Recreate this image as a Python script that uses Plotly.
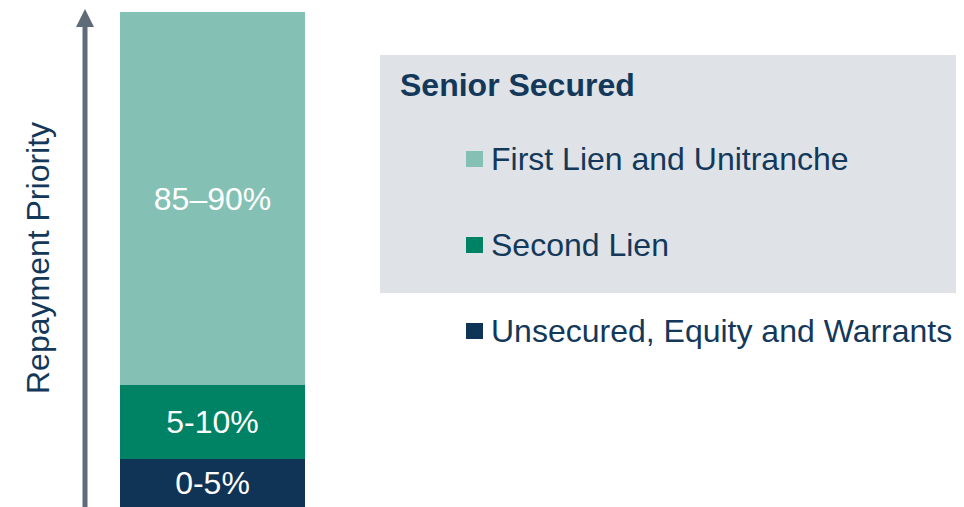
import plotly.graph_objects as go

# Data
categories = ["Unsecured, Equity and Warrants", "Second Lien", "First Lien and Unitranche"]
shares = [9.7, 15.0, 75.3]  # visual share of the stacked bar
bar_labels = ["0-5%", "5-10%", "85–90%"]
colors = ["#0F3455", "#008264", "#84C1B4"]
group_title = "Senior Secured"
axis_title = "Repayment Priority"

W, H = 972, 507
OX, OY = 8, 8  # page body margin compensation
NAVY = "#13385A"
FONT = "Liberation Sans, Arial, sans-serif"
FS = 32

def px(x):
    return x - OX

def py(p):
    return 1 - (p - OY) / H

total = sum(shares)
fig = go.Figure()
for cat, val, lab, col in zip(categories, shares, bar_labels, colors):
    fig.add_trace(go.Bar(
        x=[px(212.5)], y=[val], width=[185], name=cat,
        marker=dict(color=col, line=dict(width=0)),
        text=[lab], textposition="inside", insidetextanchor="middle",
        textangle=0,
        textfont=dict(color="white", size=FS, family=FONT),
        hoverinfo="skip", showlegend=False,
    ))

shapes = []
annotations = []

# Arrow
shapes.append(dict(type="line", xref="x", yref="paper", x0=px(85), x1=px(85),
                   y0=py(520), y1=py(26), line=dict(color="#5F6B78", width=5)))
shapes.append(dict(type="path", xref="x", yref="paper",
                   path=f"M {px(76)} {py(27)} L {px(85)} {py(9)} L {px(94)} {py(27)} Z",
                   fillcolor="#5F6B78", line=dict(width=0)))

# Grey box
shapes.append(dict(type="rect", xref="x", yref="paper", x0=px(380), x1=px(985),
                   y0=py(293), y1=py(55), fillcolor="#DFE3E7", line=dict(width=0),
                   layer="below"))

annotations.append(dict(text=f"<b>{group_title}</b>", xref="x", yref="paper",
                        x=px(398), y=py(85), xanchor="left", yanchor="middle",
                        showarrow=False, font=dict(size=FS, color=NAVY, family=FONT)))

legend_y = [159, 245, 331]
for cat, col, ly in zip(reversed(categories), reversed(colors), legend_y):
    shapes.append(dict(type="rect", xref="x", yref="paper", x0=px(466), x1=px(483),
                       y0=py(ly + 8), y1=py(ly - 8), fillcolor=col, line=dict(width=0)))
    annotations.append(dict(text=cat, xref="x", yref="paper", x=px(489), y=py(ly),
                            xanchor="left", yanchor="middle", showarrow=False,
                            font=dict(size=FS, color=NAVY, family=FONT)))

annotations.append(dict(text=axis_title, xref="x", yref="paper", x=px(38), y=py(258),
                        textangle=-90, xanchor="center", yanchor="middle", showarrow=False,
                        font=dict(size=FS, color=NAVY, family=FONT)))

# y axis: value 0 at page pixel 507, value total at page pixel 12 (495 px)
scale = total / 495
ymin = -(H - (507 - OY)) * scale
ymax = total + (12 - OY) * scale

fig.update_layout(
    width=W, height=H, barmode="stack",
    margin=dict(l=0, r=0, t=0, b=0),
    paper_bgcolor="white", plot_bgcolor="white",
    xaxis=dict(range=[0, W], visible=False, fixedrange=True),
    yaxis=dict(range=[ymin, ymax], visible=False, fixedrange=True),
    shapes=shapes, annotations=annotations,
    bargap=0, uniformtext=dict(minsize=10, mode="show"),
)

fig.write_html("out.html")
